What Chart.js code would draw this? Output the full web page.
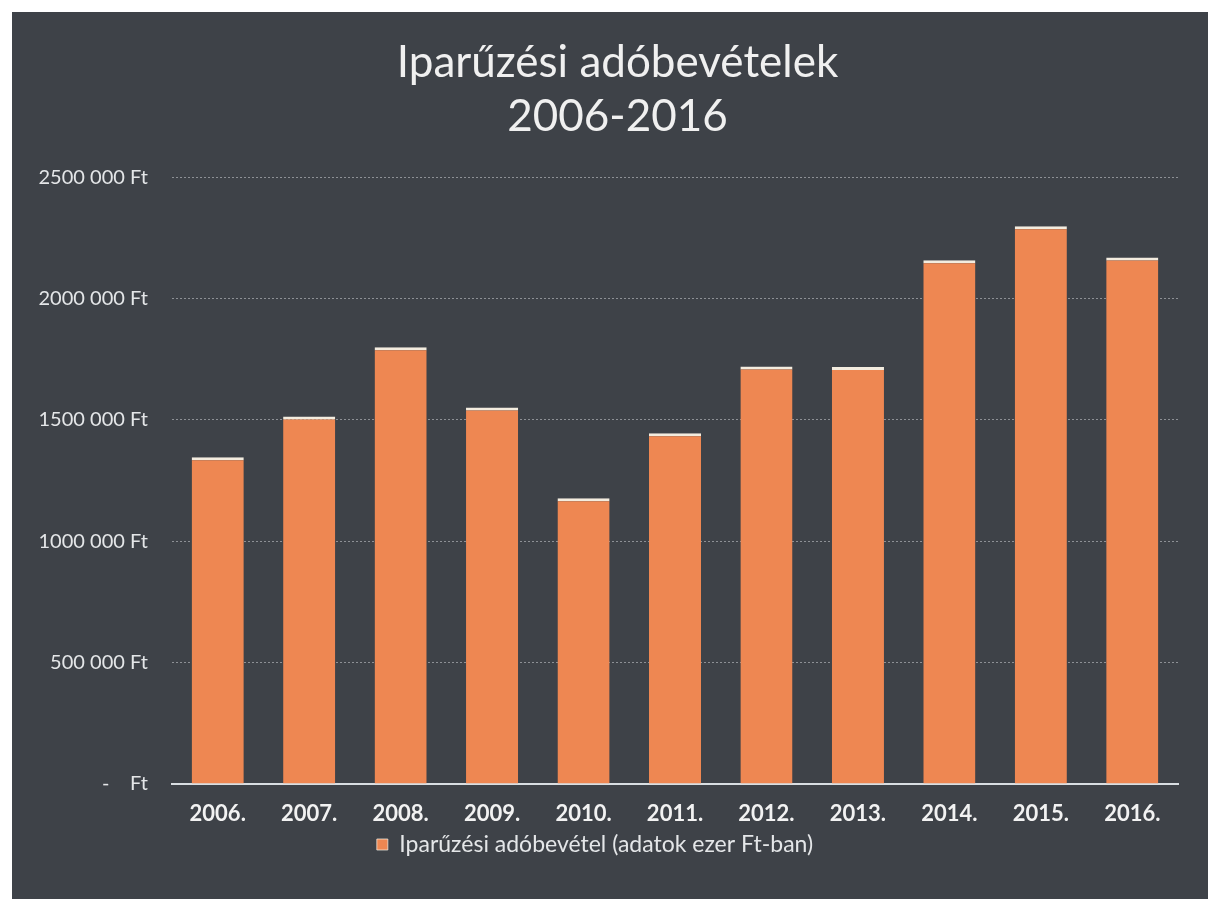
<html>
<head>
<meta charset="utf-8">
<title>Iparűzési adóbevételek</title>
<script src="https://cdn.jsdelivr.net/npm/chart.js@4.4.0/dist/chart.umd.min.js"></script>
<style>
	body { margin: 0; background: #ffffff; }
	#panel { position: absolute; left: 12px; top: 12px; width: 1196px; height: 887px; background: #3e4248; }
</style>
</head>
<body>

	<div id="panel">
		<canvas id="canvas" width="1196" height="887"></canvas>
	</div>

	<script>
		var years = ['2006.', '2007.', '2008.', '2009.', '2010.', '2011.', '2012.', '2013.', '2014.', '2015.', '2016.'];
		var revenue = [1346000, 1514000, 1800000, 1551000, 1177000, 1445000, 1720000, 1718000, 2158000, 2298000, 2169000];
		var seriesName = 'Iparűzési adóbevétel (adatok ezer Ft-ban)';
		var titleLines = ['Iparűzési adóbevételek', '2006-2016'];

		var textColor = '#e4e6e8';
		var font = 'Lato, "Open Sans", sans-serif';

		// title sits a bit right of the canvas centre in the original
		var shift = '\u00a0\u00a0\u00a0\u00a0';

		function ftLabel(v) {
			if (v === 0) return '-\u00a0\u00a0\u00a0\u00a0Ft';
			return Math.floor(v / 1000) + ' ' + String(v % 1000).padStart(3, '0') + ' Ft';
		}

		var chart = new Chart(document.getElementById('canvas'), {
			type: 'bar',
			data: {
				labels: years,
				datasets: [{
					label: seriesName,
					data: revenue,
					backgroundColor: '#ee8752',
					borderColor: '#f3ecdf',
					borderWidth: { top: 3, right: 0, bottom: 0, left: 0 },
					borderSkipped: 'bottom',
					barPercentage: 0.57,
					categoryPercentage: 1
				}]
			},
			options: {
				responsive: false,
				animation: false,
				layout: { padding: { left: 0, right: 30, top: 24, bottom: 33 } },
				plugins: {
					title: {
						display: true,
						text: titleLines.map(function (t) { return shift + t; }),
						color: '#f0f0f0',
						font: { family: font, size: 44, weight: 'normal', lineHeight: 1.23 },
						padding: { top: 0, bottom: 33 }
					},
					legend: {
						position: 'bottom',
						labels: {
							color: textColor,
							font: { family: font, size: 23 },
							boxWidth: 11,
							boxHeight: 11,
							padding: 0
						}
					},
					tooltip: { enabled: false }
				},
				scales: {
					x: {
						afterFit: function (scale) { scale.height = 49; },
						grid: { display: false, drawTicks: false },
						border: { color: '#d9dee2', width: 2 },
						ticks: {
							color: '#f2f2f2',
							font: { family: font, size: 22, weight: 'bold' },
							padding: 17
						}
					},
					y: {
						min: 0,
						max: 2500000,
						afterFit: function (scale) { scale.width = 160; },
						grid: {
							color: 'rgba(205,210,214,0.55)',
							drawTicks: false,
							lineWidth: 1
						},
						border: { display: false, dash: [2, 2] },
						ticks: {
							stepSize: 500000,
							color: textColor,
							font: { family: font, size: 20 },
							padding: 24,
							callback: ftLabel
						}
					}
				}
			}
		});
	</script>

</body>
</html>
